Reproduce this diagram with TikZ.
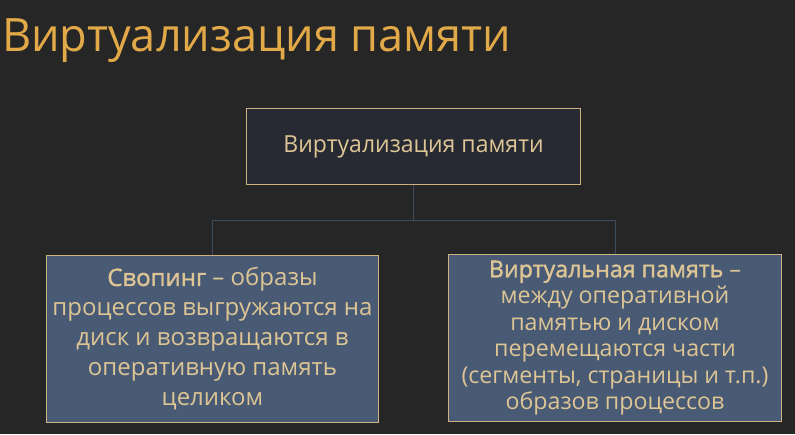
\documentclass[tikz,border=0pt]{standalone}
\usepackage{fontspec}
\setmainfont{Open Sans}[BoldFont={Open Sans},BoldFeatures={FakeBold=1.6}]
\newfontfamily\titlefont[FakeStretch=0.98]{Open Sans}
\definecolor{bgc}{HTML}{262626}
\definecolor{titlec}{HTML}{E2A948}
\definecolor{goldc}{HTML}{CDB283}
\definecolor{textc}{HTML}{DDC595}
\definecolor{topfill}{HTML}{282A33}
\definecolor{boxfill}{HTML}{495A74}
\definecolor{linec}{HTML}{3F4C60}
\begin{document}
\begin{tikzpicture}[x=1pt,y=-1pt,
    box/.style={draw=goldc,line width=1.4pt,text=textc,align=center,inner sep=0pt},
    conn/.style={draw=linec,line width=1pt}]
    \fill[bgc] (0,0) rectangle (795,434);
    \node[anchor=base west,inner sep=0pt,text=titlec,font=\titlefont\fontsize{46}{50}\selectfont] (title) at (2,51) {Виртуализация памяти};
    \node[box,fill=topfill,minimum width=334pt,minimum height=76pt,font=\titlefont\fontsize{23.5}{26}\selectfont] (top) at (413.5,146.5) {Виртуализация памяти};
    \node[box,fill=boxfill,minimum width=332pt,minimum height=167pt,font=\fontsize{24}{30}\selectfont] (swap) at (212.5,339) {\textbf{Свопинг} – образы\\процессов выгружаются на\\диск и возвращаются в\\оперативную память\\целиком};
    \node[box,fill=boxfill,minimum width=333pt,minimum height=167pt,font=\fontsize{23.2}{26.5}\selectfont] (virt) at (615,338) {\textbf{Виртуальная память} –\\между оперативной\\памятью и диском\\перемещаются части\\(сегменты, страницы и т.п.)\\образов процессов};
    \draw[conn] (top.south) -- ++(0,35) -| (swap.north);
    \draw[conn] (top.south) -- ++(0,35) -| (virt.north);
\end{tikzpicture}
\end{document}
